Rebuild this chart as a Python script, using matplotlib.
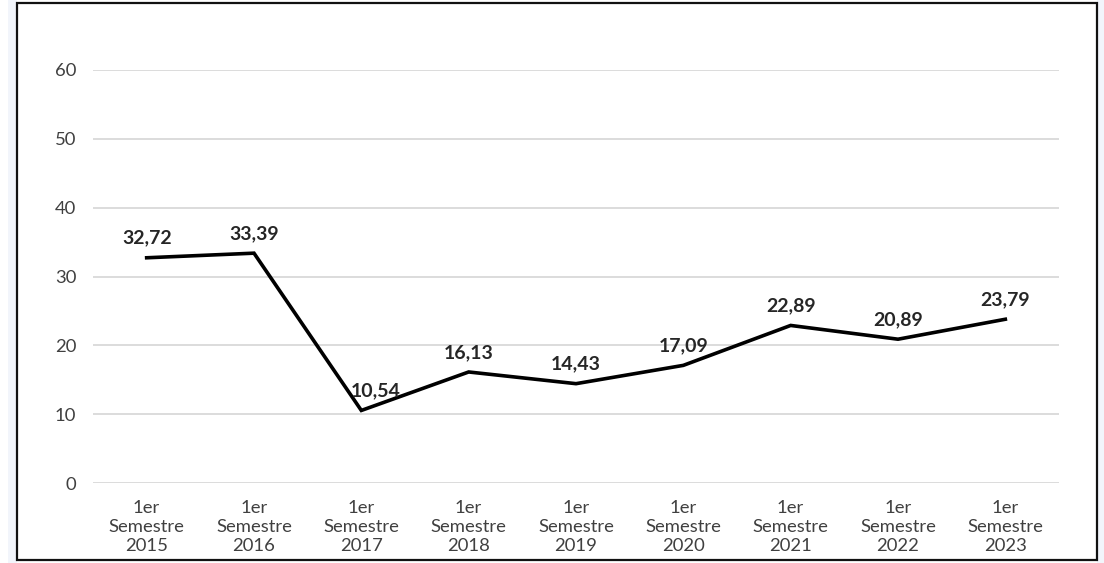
import matplotlib
matplotlib.use("Agg")
import matplotlib.pyplot as plt
from matplotlib.patches import Rectangle

categories = ["1er\nSemestre\n2015", "1er\nSemestre\n2016", "1er\nSemestre\n2017",
              "1er\nSemestre\n2018", "1er\nSemestre\n2019", "1er\nSemestre\n2020",
              "1er\nSemestre\n2021", "1er\nSemestre\n2022", "1er\nSemestre\n2023"]
values = [32.72, 33.39, 10.54, 16.13, 14.43, 17.09, 22.89, 20.89, 23.79]
yticks = [0, 10, 20, 30, 40, 50, 60]

plt.rcParams['font.family'] = ['Lato', 'DejaVu Sans']

W, H = 1104, 563
fig = plt.figure(figsize=(W / 100, H / 100), dpi=100)
fig.patch.set_facecolor("white")

# faint blue shadow at the left and right edges
fig.patches.append(Rectangle((8 / W, 0), 9 / W, 1, transform=fig.transFigure,
                             facecolor="#f2f5fb", edgecolor="none", zorder=0))
fig.patches.append(Rectangle((1097 / W, 0), 1 - 1097 / W, 1, transform=fig.transFigure,
                             facecolor="#f2f5fb", edgecolor="none", zorder=0))
# frame
fig.patches.append(Rectangle((17 / W, 3 / H), (1097 - 17) / W, (560 - 3) / H,
                             transform=fig.transFigure, facecolor="white",
                             edgecolor="#111111", linewidth=1.6, zorder=0.5))

ax = fig.add_axes([93 / W, (H - 483) / H, (1059 - 93) / W, (483 - 70) / H])
ax.set_zorder(2)
ax.set_facecolor("none")
x = list(range(len(categories)))
ax.plot(x, values, color="black", linewidth=2.6, solid_joinstyle="miter", zorder=3)

# small horizontal nudge for the label at the minimum (as in the original)
label_dx = {2: 10}
for xi, v in zip(x, values):
    lab = f"{v:.2f}".replace(".", ",")
    ax.annotate(lab, (xi, v), xytext=(label_dx.get(xi, 0), 8), textcoords="offset points",
                ha="center", va="bottom", fontsize=14, fontweight="bold",
                color="#262626", zorder=4)

ax.set_xlim(-0.5, len(categories) - 0.5)
ax.set_ylim(0, 60)
ax.set_yticks(yticks)
ax.set_yticklabels([str(t) for t in yticks])
ax.set_xticks(x)
ax.set_xticklabels(categories, linespacing=1.25)
ax.tick_params(axis="both", length=0, labelsize=13.3, labelcolor="#404040")
ax.tick_params(axis="y", pad=12)
ax.tick_params(axis="x", pad=12)
ax.grid(axis="y", color="#d9d9d9", linewidth=1.3)
ax.set_axisbelow(True)
for s in ax.spines.values():
    s.set_visible(False)

fig.savefig("out.png", dpi=100)
